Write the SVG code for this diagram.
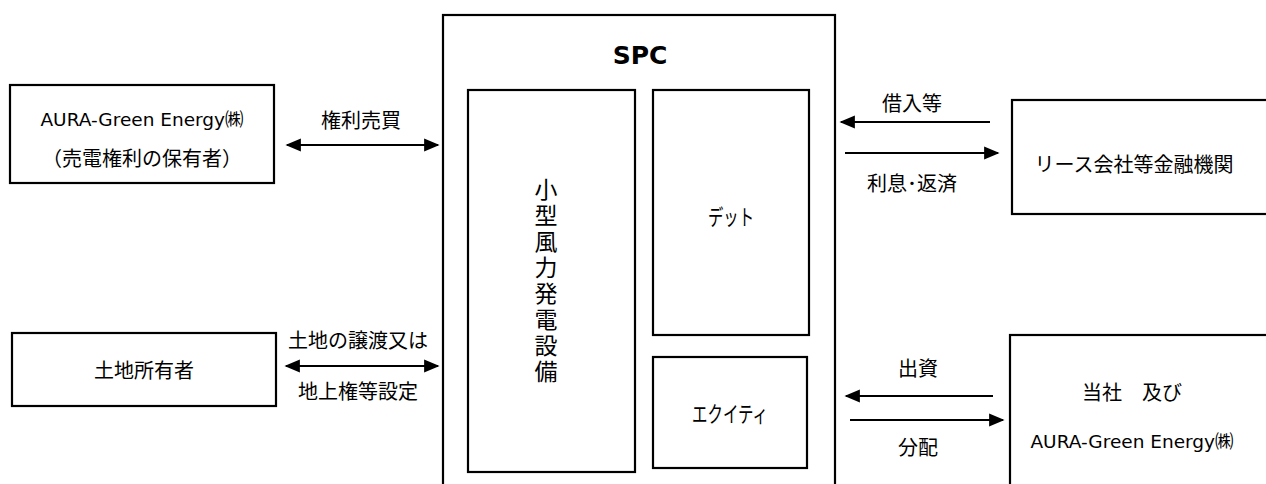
<svg xmlns="http://www.w3.org/2000/svg" width="1266" height="484" viewBox="0 0 1266 484">
<style>
rect{fill:#fff;stroke:#000;stroke-width:2.2}
text{font-family:"Noto Sans CJK JP","Noto Sans",sans-serif;font-size:20px;fill:#000;text-anchor:middle;dominant-baseline:central}
.en{font-family:"DejaVu Sans","Noto Sans CJK JP",sans-serif;font-size:18.5px}
.b{font-family:"DejaVu Sans",sans-serif;font-weight:bold;font-size:25px}
.v{font-size:23px;writing-mode:vertical-rl;text-anchor:start;letter-spacing:3px}
.k{font-size:22px}
.c line{stroke:#000;stroke-width:2.2}
</style>
<defs>
<marker id="ah" viewBox="0 0 10 10" refX="9" refY="5" markerWidth="7" markerHeight="6" orient="auto-start-reverse" markerUnits="strokeWidth" preserveAspectRatio="none"><path d="M0,0L10,5L0,10z" fill="#000"/></marker>
</defs>
<g id="spc">
<rect x="443" y="15" width="392" height="480"/>
<text x="640" y="55" class="b">SPC</text>
</g>
<g id="facility">
<rect x="468" y="90" width="167" height="382"/>
<text class="v" x="546" y="178">小型風力発電設備</text>
</g>
<g id="debt">
<rect x="653" y="90" width="156" height="245"/>
<text x="731" y="215" class="k" textLength="46" lengthAdjust="spacingAndGlyphs">デット</text>
</g>
<g id="equity">
<rect x="653" y="357" width="154" height="111"/>
<text x="730" y="412" class="k" textLength="76" lengthAdjust="spacingAndGlyphs">エクイティ</text>
</g>
<g id="aura">
<rect x="10" y="85" width="264" height="98"/>
<text x="142" y="119" class="en">AURA-Green Energy㈱</text>
<text x="142" y="157">（売電権利の保有者）</text>
</g>
<g id="landowner">
<rect x="12" y="333" width="264" height="73"/>
<text x="144" y="369">土地所有者</text>
</g>
<g id="lease">
<rect x="1012" y="100" width="262" height="114"/>
<text x="1134" y="163">リース会社等金融機関</text>
</g>
<g id="company">
<rect x="1010" y="335" width="264" height="160"/>
<text x="1132" y="391">当社　及び</text>
<text x="1132" y="441" class="en">AURA-Green Energy㈱</text>
</g>
<g id="connectors" class="c">
<line x1="287" y1="145" x2="438" y2="145" marker-start="url(#ah)" marker-end="url(#ah)"/>
<line x1="286" y1="366" x2="438" y2="366" marker-start="url(#ah)" marker-end="url(#ah)"/>
<line x1="990" y1="122" x2="841" y2="122" marker-end="url(#ah)"/>
<line x1="845" y1="153" x2="998" y2="153" marker-end="url(#ah)"/>
<line x1="993" y1="396" x2="846" y2="396" marker-end="url(#ah)"/>
<line x1="850" y1="420" x2="1003" y2="420" marker-end="url(#ah)"/>
</g>
<g id="labels">
<text x="361" y="119">権利売買</text>
<text x="358" y="339">土地の譲渡又は</text>
<text x="358" y="390">地上権等設定</text>
<text x="912" y="102">借入等</text>
<text x="912" y="182">利息･返済</text>
<text x="918" y="367">出資</text>
<text x="918" y="446">分配</text>
</g>
</svg>
